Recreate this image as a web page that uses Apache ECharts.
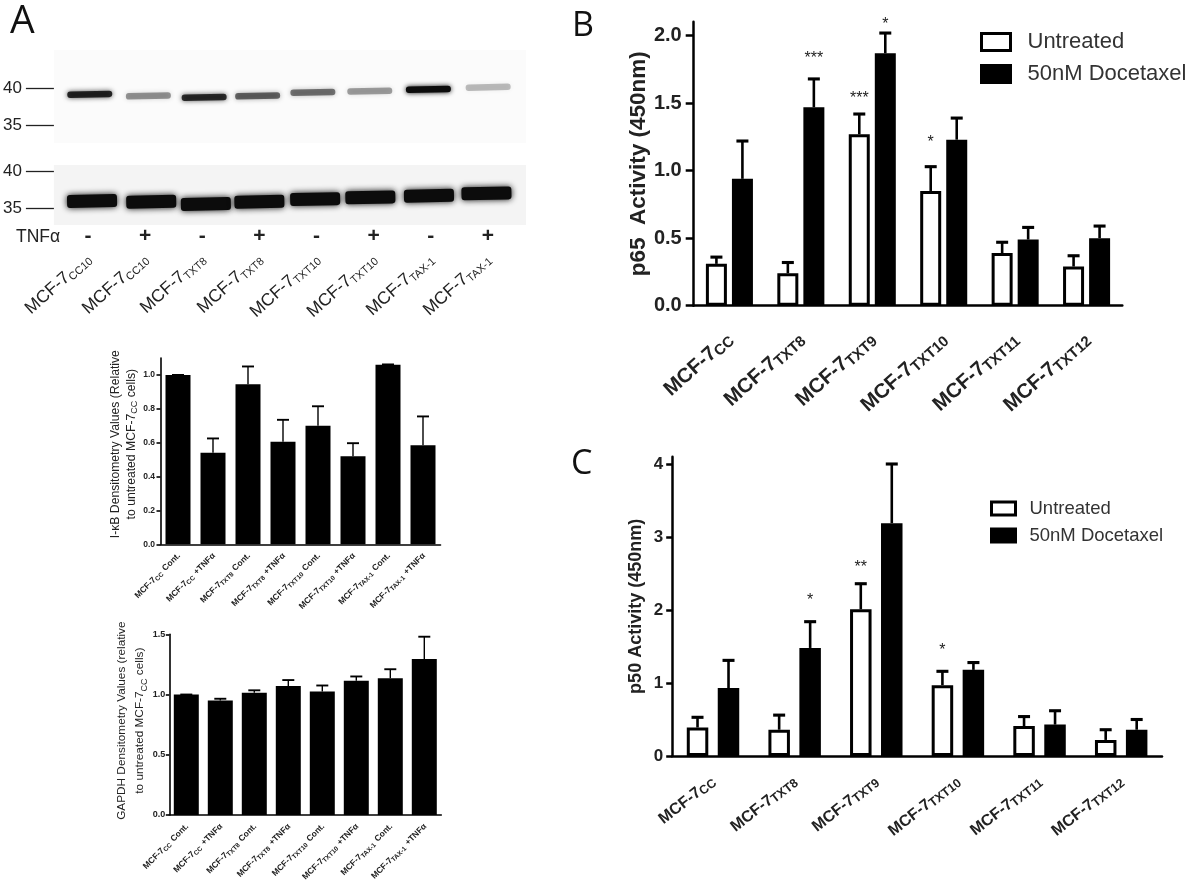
<!DOCTYPE html>
<html><head><meta charset="utf-8"><style>html,body{margin:0;padding:0;background:#fff}#c{width:1200px;height:888px}</style></head>
<body><div id="c"></div>
<script src="https://cdn.jsdelivr.net/npm/echarts@6/dist/echarts.min.js"></script>
<script>
// ---- Panel A blot readings (lane number, apparent kDa, band darkness)
const blotTopLanes   = [1.00,2.03,3.01,3.95,4.92,5.92,6.95,8.00];
const blotTopKda     = [39.23,39.0,38.8,39.0,39.5,39.67,39.9,40.2];
const blotTopDark    = [0.85,0.4,0.82,0.58,0.52,0.36,1.0,0.25];
const blotBottomLanes= [1.04,2.08,3.04,3.98,4.96,5.93,6.96,7.97];
const blotBottomKda  = [35.95,35.85,35.54,35.85,36.2,36.44,36.66,36.98];
const blotBottomDark = [1,1,1,1,1,1,1,1];
const kdaTicks = [35,40];
const tnfSigns = ['-','+','-','+','-','+','-','+'];
const laneNames = ['MCF-7 CC10','MCF-7 CC10','MCF-7 TXT8','MCF-7 TXT8','MCF-7 TXT10','MCF-7 TXT10','MCF-7 TAX-1','MCF-7 TAX-1'];
// ---- Densitometry
const densCats = ['MCF-7 CC Cont.','MCF-7 CC +TNFα','MCF-7 TXT8 Cont.','MCF-7 TXT8 +TNFα','MCF-7 TXT10 Cont.','MCF-7 TXT10 +TNFα','MCF-7 TAX-1 Cont.','MCF-7 TAX-1 +TNFα'];
const ikbValues = [1.0,0.54,0.945,0.605,0.70,0.52,1.06,0.585];
const ikbTops   = [1.0,0.625,1.05,0.735,0.815,0.597,1.062,0.755];
const ikbTicks  = [0,0.2,0.4,0.6,0.8,1.0];
const gapdhValues = [1.0,0.95,1.015,1.07,1.025,1.115,1.135,1.295];
const gapdhTops   = [1.0,0.965,1.035,1.12,1.075,1.15,1.21,1.48];
const gapdhTicks  = [0,0.5,1.0,1.5];
// ---- Panels B, C
const activityCats = ['MCF-7 CC','MCF-7 TXT8','MCF-7 TXT9','MCF-7 TXT10','MCF-7 TXT11','MCF-7 TXT12'];
const p65Untreated = [0.31,0.24,1.27,0.85,0.39,0.29];
const p65UntreatedTops = [0.36,0.32,1.42,1.03,0.47,0.37];
const p65Docetaxel = [0.94,1.47,1.87,1.23,0.49,0.50];
const p65DocetaxelTops = [1.22,1.68,2.02,1.39,0.58,0.59];
const p65Ticks = [0,0.5,1.0,1.5,2.0];
const p65Stars = [[1,1.857,'***',1],[2,1.566,'***',-1],[2,2.11,'*',1],[3,1.235,'*',-1]];
const p50Untreated = [0.39,0.36,2.01,0.97,0.41,0.22];
const p50UntreatedTops = [0.53,0.56,2.36,1.16,0.54,0.36];
const p50Docetaxel = [0.93,1.48,3.19,1.18,0.43,0.36];
const p50DocetaxelTops = [1.31,1.84,4.0,1.28,0.62,0.50];
const p50Ticks = [0,1,2,3,4];
const p50Stars = [[1,2.18,'*',1],[2,2.64,'**',-1],[3,1.5,'*',-1]];

const SANS = '"Liberation Sans", Arial, sans-serif';

function richLabel(v){
  const p = v.split(' ');
  return '{a|'+p[0]+'}{b|'+p[1]+'}' + (p[2] ? ' {a|'+p[2]+'}' : '');
}
function rich(size, sub, weight, color){
  return {
    a:{fontSize:size,fontWeight:weight,fontFamily:SANS,color:color,verticalAlign:'bottom',lineHeight:size+2},
    b:{fontSize:sub,fontWeight:weight,fontFamily:SANS,color:color,verticalAlign:'bottom',lineHeight:size+2,padding:[0,0,-1,0]}
  };
}
function bandSeries(g, lanes, kda, dark, w, h, blur, tilt){
  return {type:'custom',xAxisIndex:g,yAxisIndex:g,silent:true,
    data:lanes.map((l,i)=>[l,kda[i],dark[i]]),encode:{x:0,y:1},
    renderItem(params,api){
      const c=api.coord([api.value(0),api.value(1)]), d=api.value(2);
      const col='rgba(12,12,12,'+d+')';
      return {type:'rect',x:c[0],y:c[1],rotation:tilt,
        shape:{x:-w/2,y:-h/2,width:w,height:h,r:3},
        style:{fill:col,shadowBlur:blur,shadowColor:col}};
    }};
}
function errSeries(g, values, tops, dx, cap, lw){
  return {type:'custom',xAxisIndex:g,yAxisIndex:g,silent:true,z:5,
    data:values.map((v,i)=>[i,v,tops[i]]),encode:{x:0,y:[1,2]},
    renderItem(params,api){
      const i=api.value(0), a=api.coord([i,api.value(1)]), b=api.coord([i,api.value(2)]);
      const x=a[0]+dx, st={stroke:'#000',lineWidth:lw};
      return {type:'group',children:[
        {type:'line',shape:{x1:x,y1:a[1],x2:x,y2:b[1]},style:st},
        {type:'line',shape:{x1:x-cap/2,y1:b[1],x2:x+cap/2,y2:b[1]},style:Object.assign({},st,{lineWidth:lw+0.5})}
      ]};
    }};
}
function starSeries(g, stars, dx){
  return {type:'custom',xAxisIndex:g,yAxisIndex:g,silent:true,z:6,
    data:stars.map(s=>[s[0],s[1],s[3]]),encode:{x:0,y:1},
    renderItem(params,api){
      const c=api.coord([api.value(0),api.value(1)]);
      return {type:'text',x:c[0]+api.value(2)*dx,y:c[1]+4,
        style:{text:stars[params.dataIndex][2],font:'16px '+SANS,fill:'#222',align:'center',verticalAlign:'middle'}};
    }};
}
function plainX(g, cats, tick, lw, labelCfg){
  return {type:'category',gridIndex:g,data:cats,
    axisLine:{lineStyle:{color:'#000',width:lw}},
    axisTick:{alignWithLabel:true,length:tick,lineStyle:{color:'#000',width:lw}},axisLabel:labelCfg};
}
function valueY(g,max,ticks,tick,lw,fs,margin,fmt,name,gap,nameStyle){
  return {type:'value',gridIndex:g,min:0,max:max,name:name,nameLocation:'middle',nameGap:gap,nameTextStyle:nameStyle,
    splitLine:{show:false},
    axisLine:{show:true,lineStyle:{color:'#000',width:lw}},
    axisTick:{show:true,customValues:ticks,length:tick,lineStyle:{color:'#000',width:lw}},
    axisLabel:{customValues:ticks,formatter:fmt,fontSize:fs,fontWeight:'bold',fontFamily:SANS,color:'#222',margin:margin}};
}
function barPair(g,name,vals,isWhite,w,gap){
  return {type:'bar',name:name,xAxisIndex:g,yAxisIndex:g,data:vals,barWidth:w,barGap:gap,
    itemStyle:{color:isWhite?'#fff':'#000',borderColor:'#000',borderWidth:3}};
}
function legendAt(left,top,w,h,gap,fs,textGap){
  return {left:left,top:top,orient:'vertical',icon:'rect',itemWidth:w,itemHeight:h,itemGap:gap,selectedMode:false,
    itemStyle:{borderColor:'#000',borderWidth:3},
    textStyle:{fontSize:fs,fontFamily:SANS,color:'#333',padding:[0,0,0,textGap]},
    data:['Untreated','50nM Docetaxel']};
}

const option = {
  animation:false, backgroundColor:'#fff',
  grid:[
    {left:52,top:50,width:474,height:93,show:true,backgroundColor:'#fbfbfb',borderWidth:0},
    {left:52,top:165,width:474,height:60,show:true,backgroundColor:'#f4f4f4',borderWidth:0},
    {left:59.4,top:225,width:457,height:1},
    {left:59.4,top:253,width:457,height:1},
    {left:160.5,top:358,width:280,height:186.3},
    {left:169.3,top:634.3,width:272,height:180.7},
    {left:693.7,top:21.7,width:428.6,height:284},
    {left:672.2,top:456.7,width:489.8,height:299.3}
  ],
  xAxis:[
    {type:'value',gridIndex:0,min:0.37,max:8.665,show:false},
    {type:'value',gridIndex:1,min:0.37,max:8.665,show:false},
    {type:'category',gridIndex:2,data:tnfSigns,axisLine:{show:false},axisTick:{show:false},
      axisLabel:{interval:0,margin:0,fontSize:21,fontWeight:'bold',fontFamily:SANS,color:'#222'}},
    {type:'category',gridIndex:3,data:laneNames,axisLine:{show:false},axisTick:{show:false},
      axisLabel:{interval:0,margin:2,rotate:42,formatter:richLabel,rich:rich(17.5,11,'normal','#222')}},
    plainX(4,densCats,4,1.6,{interval:0,margin:9,rotate:45,formatter:richLabel,rich:rich(8.5,6.5,'bold','#222')}),
    plainX(5,densCats,4,1.6,{interval:0,margin:9,rotate:45,formatter:richLabel,rich:rich(8.5,6.5,'bold','#222')}),
    plainX(6,activityCats,9,2.5,{interval:0,margin:30,rotate:42,formatter:richLabel,rich:rich(20.5,15,'bold','#222')}),
    plainX(7,activityCats,7,2.5,{interval:0,margin:23,rotate:38,formatter:richLabel,rich:rich(16,12.5,'bold','#222')})
  ],
  yAxis:[
    {type:'value',gridIndex:0,min:32.52,max:45.33,splitLine:{show:false},axisLine:{show:false},
      axisTick:{show:true,customValues:kdaTicks,length:28,lineStyle:{color:'#222',width:1.3}},
      axisLabel:{customValues:kdaTicks,margin:32,fontSize:17,fontFamily:SANS,color:'#222'}},
    {type:'value',gridIndex:1,min:32.7,max:40.81,splitLine:{show:false},axisLine:{show:false},
      axisTick:{show:true,customValues:kdaTicks,length:28,lineStyle:{color:'#222',width:1.3}},
      axisLabel:{customValues:kdaTicks,margin:32,fontSize:17,fontFamily:SANS,color:'#222'}},
    {type:'value',gridIndex:2,show:false,min:0,max:1},
    {type:'value',gridIndex:3,show:false,min:0,max:1},
    valueY(4,1.1,ikbTicks,4,1.6,8.5,5.5,v=>v.toFixed(1),'I-κB Densitometry Values (Relative\nto untreated MCF-7{s|CC} cells)',10,
      {fontSize:12.2,fontFamily:SANS,color:'#222',lineHeight:16,padding:[0,0,0,14],rich:{s:{fontSize:9,fontFamily:SANS,color:'#222',verticalAlign:'bottom'}}}),
    valueY(5,1.5,gapdhTicks,3.5,1.6,9,4,v=>v.toFixed(1),'GAPDH Densitometry Values (relative\nto untreated MCF-7{s|CC} cells)',14,
      {fontSize:11.8,fontFamily:SANS,color:'#222',lineHeight:18,padding:[0,0,0,8],rich:{s:{fontSize:9,fontFamily:SANS,color:'#222',verticalAlign:'bottom'}}}),
    valueY(6,2.104,p65Ticks,8,2.5,20,12,v=>v.toFixed(1),'p65  Activity (450nm)',43,
      {fontSize:22.5,fontWeight:'bold',fontFamily:SANS,color:'#222'}),
    valueY(7,4.1,p50Ticks,6,2.5,17,9,v=>String(v),'p50 Activity (450nm)',27,
      {fontSize:18,fontWeight:'bold',fontFamily:SANS,color:'#222'})
  ],
  legend:[legendAt(975,26,29,17,10,22,12),legendAt(985,494,24,13,8,18.5,9)],
  series:[
    bandSeries(0,blotTopLanes,blotTopKda,blotTopDark,45,6.5,5,0.02),
    bandSeries(1,blotBottomLanes,blotBottomKda,blotBottomDark,50,13,6,0.02),
    {type:'bar',xAxisIndex:4,yAxisIndex:4,data:ikbValues,barWidth:25,itemStyle:{color:'#000'}},
    errSeries(4,ikbValues,ikbTops,0,12,1.4),
    {type:'bar',xAxisIndex:5,yAxisIndex:5,data:gapdhValues,barWidth:25,itemStyle:{color:'#000'}},
    errSeries(5,gapdhValues,gapdhTops,0,12,1.4),
    barPair(6,'Untreated',p65Untreated,true,21,'24%'),
    barPair(6,'50nM Docetaxel',p65Docetaxel,false,21,'24%'),
    errSeries(6,p65Untreated,p65UntreatedTops,-13,12,2.6),
    errSeries(6,p65Docetaxel,p65DocetaxelTops,13,12,2.6),
    starSeries(6,p65Stars,13),
    barPair(7,'Untreated',p50Untreated,true,21.5,'44%'),
    barPair(7,'50nM Docetaxel',p50Docetaxel,false,21.5,'44%'),
    errSeries(7,p50Untreated,p50UntreatedTops,-15.5,12,2.6),
    errSeries(7,p50Docetaxel,p50DocetaxelTops,15.5,12,2.6),
    starSeries(7,p50Stars,15.5)
  ],
  graphic:[
    {type:'text',left:10,top:2,style:{text:'A',font:'39px "Open Sans", sans-serif',fill:'#111'}},
    {type:'text',left:572,top:9,style:{text:'B',font:'34px "Open Sans", sans-serif',fill:'#111'}},
    {type:'text',left:571,top:447,style:{text:'C',font:'34px "Open Sans", sans-serif',fill:'#111'}},
    {type:'text',left:16,top:228,style:{text:'TNFα',font:'17.5px '+SANS,fill:'#222'}}
  ]
};
echarts.init(document.getElementById('c'),null,{renderer:'canvas'}).setOption(option);
</script></body></html>
